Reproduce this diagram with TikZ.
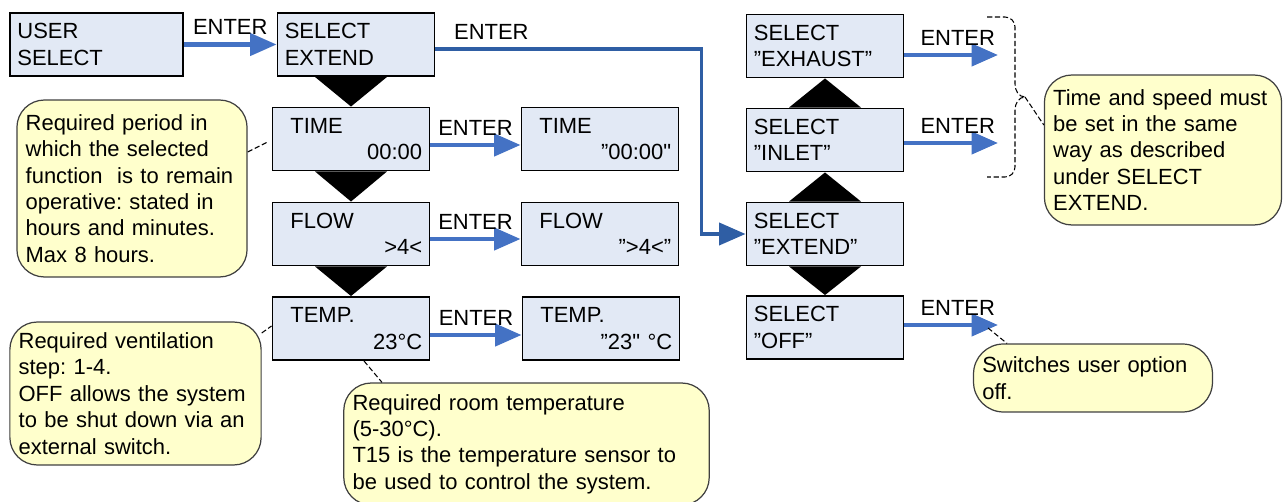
\documentclass[tikz,border=0pt]{standalone}
\usepackage{fontspec}
\setmainfont{Liberation Sans}
\usetikzlibrary{positioning, arrows.meta, calc}
\definecolor{boxfill}{RGB}{226,233,245}
\definecolor{notefill}{RGB}{255,255,204}
\definecolor{enterblue}{RGB}{68,114,196}
\definecolor{pathblue}{RGB}{47,94,164}
\newcommand{\val}[2]{\hspace*{6pt}#1\\\mbox{}\hfill #2}
\frenchspacing

\begin{document}
\begin{tikzpicture}[x=0.02cm, y=-0.02cm,
  every node/.style={font=\fontsize{12.5}{15}\selectfont},
  box/.style={draw, line width=1.1pt, fill=boxfill, minimum width=3.14cm, minimum height=1.26cm,
    inner xsep=4pt, text width=81pt, align=left},
  note/.style={draw=black!75, line width=0.7pt, fill=notefill, rounded corners=0.55cm,
    inner xsep=5pt, align=left},
  enter/.style={>={Triangle[length=15pt,width=12.5pt]}, ->, line width=2.4pt, draw=enterblue},
  mainline/.style={>={Triangle[length=15pt,width=12.5pt]}, ->, line width=2.1pt, draw=pathblue},
  lbl/.style={above=1pt, text=black},
  leader/.style={line width=0.6pt, dash pattern=on 3pt off 1.5pt}]
\useasboundingbox (0,0) rectangle (1288,502);

\node [box, text width=90pt, minimum width=3.46cm] (user) at (96.5,44.5) {USER\\SELECT};
\node [box] (ext) at (356,44.5) {SELECT\\EXTEND};

\node [box] (time) at (351,139) {\val{TIME}{00:00}};
\node [box] (flow) at (351,234) {\val{FLOW}{>4<}};
\node [box] (temp) at (351,328.5) {\val{TEMP.}{23°C}};
\node [box] (time2) at (600,139) {\val{TIME}{”00:00\textquotedbl}};
\node [box] (flow2) at (600,234) {\val{FLOW}{”>4<”}};
\node [box] (temp2) at (601,328.5) {\val{TEMP.}{”23\textquotedbl{} °C}};

\node [box] (exhaust) at (825,46) {SELECT\\”EXHAUST”};
\node [box] (inlet) at (825,140) {SELECT\\”INLET”};
\node [box] (extend) at (825,234) {SELECT\\”EXTEND”};
\node [box] (off) at (825,327.5) {SELECT\\”OFF”};

\foreach \a/\b in {ext/time, time/flow, flow/temp, extend/off}
  \fill ($(\b.north |- \a.south)+(-36,0)$) -- ($(\b.north |- \a.south)+(36,0)$) -- (\b.north) -- cycle;
\foreach \a/\b in {inlet/exhaust, extend/inlet}
  \fill ($(\b.south |- \a.north)+(-36,0)$) -- ($(\b.south |- \a.north)+(36,0)$) -- (\b.south) -- cycle;

\draw (user) edge[enter] node[lbl]{ENTER} (ext);
\draw ([shift={(0,6)}]time.east) edge[enter] node[lbl]{ENTER} ([shift={(0,6)}]time2.west);
\draw ([shift={(0,5)}]flow.east) edge[enter] node[lbl]{ENTER} ([shift={(0,5)}]flow2.west);
\draw ([shift={(0,6.5)}]temp.east) edge[enter] node[lbl]{ENTER} ([shift={(0,6.5)}]temp2.west);

\draw[mainline] ([shift={(0,4.5)}]ext.east) -- node[lbl, pos=0.21]{ENTER} ++(266,0) |- (extend.west);

\coordinate (exhout) at (998,55);
\coordinate (inletout) at (998,143);
\coordinate (offout) at (998,325);
\draw ([shift={(0,9)}]exhaust.east) edge[enter] node[lbl, pos=0.57]{ENTER} (exhout);
\draw ([shift={(0,3)}]inlet.east) edge[enter] node[lbl, pos=0.57]{ENTER} (inletout);
\draw ([shift={(0,-2.5)}]off.east) edge[enter] node[lbl, pos=0.57]{ENTER} (offout);

\node [note, text width=121pt, minimum height=3.54cm] (pernote) at (132,188.5)
  {Required period in\\which the selected\\function \ is to remain\\operative: stated in\\hours and minutes.\\Max 8 hours.};
\node [note, text width=133pt, minimum height=2.86cm] (ventnote) at (135.5,393.5)
  {Required ventilation\\step: 1-4.\\OFF allows the system\\to be shut down via an\\external switch.};
\node [note, text width=198pt, minimum height=2.44cm] (roomnote) at (526.5,444)
  {Required room temperature\\(5-30°C).\\T15 is the temperature sensor to\\be used to control the system.};
\node [note, text width=125pt, minimum height=3cm] (tsnote) at (1163,150)
  {Time and speed must\\be set in the same\\way as described\\under SELECT\\EXTEND.};
\node [note, text width=126pt, minimum height=1.36cm, rounded corners=0.6cm] (swnote) at (1093,378)
  {Switches user option\\off.};

\draw[leader] (987,17) -- (1005,17) to[out=0,in=90] (1015,27) -- (1015,84)
  to[out=-90,in=180] (1025,97) coordinate (bracetip) to[out=180,in=90] (1015,110)
  -- (1015,167) to[out=-90,in=0] (1005,177) -- (987,177);

\draw[leader, shorten >=2.8pt] (pernote.east |- 0,152) -- (time.west |- 0,140);
\draw[leader] (ventnote.east |- 0,333) -- (temp.west |- 0,326);
\draw[leader] (temp.south -| 364,0) -- (roomnote.north -| 382,0);
\draw[leader] ([shift={(-10,3)}]offout) -- (swnote.north -| 1007,0);
\draw[leader] (bracetip) -- (tsnote.west |- 0,125);
\end{tikzpicture}
\end{document}
